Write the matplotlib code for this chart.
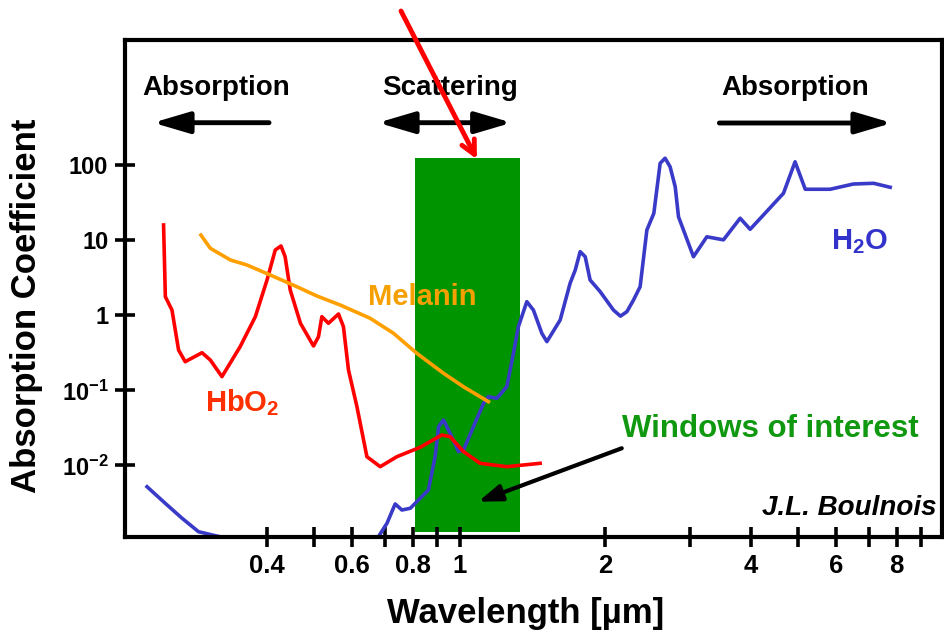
import matplotlib
matplotlib.use("Agg")
import matplotlib.pyplot as plt

plt.rcParams['font.family'] = ['Liberation Sans', 'DejaVu Sans']
plt.rcParams['font.weight'] = 'bold'
plt.rcParams['axes.labelweight'] = 'bold'
plt.rcParams['mathtext.fontset'] = 'custom'
plt.rcParams['mathtext.rm'] = 'Liberation Sans:bold'
plt.rcParams['mathtext.bf'] = 'Liberation Sans:bold'
plt.rcParams['mathtext.it'] = 'Liberation Sans:bold:italic'

# HbO2 (rouge)
hbo2_wl = [0.2445, 0.2466, 0.2545, 0.2626, 0.271, 0.2936, 0.3054, 0.3228, 0.352, 0.3784,
           0.400, 0.416, 0.4275, 0.436, 0.4467, 0.469, 0.499, 0.511, 0.5193, 0.5358,
           0.562, 0.5754, 0.5894, 0.6136, 0.6434, 0.6855, 0.742, 0.829, 0.919, 0.956,
           1.019, 1.103, 1.252, 1.467]
hbo2_abs = [16.1, 1.78, 1.18, 0.347, 0.242, 0.319, 0.255, 0.153, 0.384, 0.964,
            2.97, 7.47, 8.45, 6.08, 2.19, 0.787, 0.392, 0.521, 0.964, 0.787,
            1.047, 0.71, 0.1876, 0.0608, 0.0131, 0.00964, 0.0131, 0.0175, 0.0255, 0.0242,
            0.0153, 0.0107, 0.00964, 0.0107]

# melanine
mel_wl = [0.2921, 0.3054, 0.336, 0.3636, 0.406, 0.461, 0.507, 0.5666, 0.6535, 0.7302,
          0.816, 0.926, 1.019, 1.147]
mel_abs = [11.8, 7.87, 5.5, 4.71, 3.47, 2.42, 1.82, 1.38, 0.918, 0.579,
           0.313, 0.17, 0.112, 0.071]

# eau, morceau UV
h2o_uv_wl = [0.226, 0.2465, 0.267, 0.2887, 0.320]
h2o_uv_abs = [0.00521, 0.00313, 0.00198, 0.00131, 0.00112]

# eau, visible -> IR
h2o_wl = [0.680, 0.708, 0.736, 0.760, 0.791, 0.862, 0.890, 0.905, 0.926, 0.956,
          0.995, 1.019, 1.068, 1.121, 1.147, 1.194, 1.252, 1.292, 1.323, 1.377,
          1.421, 1.479, 1.515, 1.614, 1.692, 1.734, 1.775, 1.818, 1.861, 1.95,
          2.08, 2.15, 2.217, 2.288, 2.361, 2.438, 2.52, 2.597, 2.659, 2.723,
          2.79, 2.834, 3.043, 3.243, 3.51, 3.80, 3.985, 4.246, 4.67, 4.935,
          5.18, 5.83, 6.51, 7.17, 7.76]
h2o_abs = [0.00113, 0.0017, 0.00307, 0.00255, 0.00269, 0.00471, 0.0131, 0.0329, 0.0404, 0.0269,
           0.0153, 0.0161, 0.0329, 0.0675, 0.0826, 0.0787, 0.1125, 0.313, 0.71, 1.53,
           1.18, 0.579, 0.448, 0.871, 2.69, 4.04, 7.1, 6.08, 2.97, 2.1,
           1.18, 0.98, 1.125, 1.61, 2.42, 13.8, 23, 107, 125, 96,
           52, 20.7, 6.08, 11.2, 10.2, 19.8, 14.1, 21.9, 42.6, 112,
           48.2, 48.2, 56.6, 57.9, 51.2]

# fenetre d'interet
window_wl = [0.81, 1.33]
window_abs = [0.00131, 125]

xticks = [0.4, 0.5, 0.6, 0.7, 0.8, 0.9, 1, 2, 3, 4, 5, 6, 7, 8, 9]
xtick_labels = ['0.4', '', '0.6', '', '0.8', '', '1', '2', '', '4', '', '6', '', '8', '']
yticks = [0.01, 0.1, 1, 10, 100]
ytick_labels = [r'$\mathbf{10^{-2}}$', r'$\mathbf{10^{-1}}$', '1', '10', '100']

fig = plt.figure(figsize=(9.44, 6.33), dpi=100)
ax = fig.add_axes([0.1324, 0.1517, 0.8655, 0.7851])
ax.set_xscale('log')
ax.set_yscale('log')
ax.set_xlim(0.2035, 9.93)
ax.set_ylim(10 ** -2.953, 10 ** 3.673)

ax.fill_between(window_wl, window_abs[0], window_abs[1], color='#009400', lw=0, zorder=1)

ax.plot(h2o_uv_wl, h2o_uv_abs, color='#3a3ac8', lw=2.6, solid_joinstyle='round', zorder=2)
ax.plot(h2o_wl, h2o_abs, color='#3a3ac8', lw=2.6, solid_joinstyle='round', zorder=2)
ax.plot(hbo2_wl, hbo2_abs, color='#ff0000', lw=2.6, solid_joinstyle='round', zorder=3)
ax.plot(mel_wl, mel_abs, color='#ffa000', lw=2.6, solid_joinstyle='round', zorder=3)

ax.set_xticks(xticks)
ax.set_xticklabels(xtick_labels)
ax.xaxis.set_minor_locator(matplotlib.ticker.NullLocator())
ax.set_yticks(yticks)
ax.set_yticklabels(ytick_labels)
ax.yaxis.set_minor_locator(matplotlib.ticker.NullLocator())
ax.tick_params(direction='inout', length=14, width=2.6, pad=5)
ax.tick_params(axis='x', labelsize=18.5)
ax.tick_params(axis='y', labelsize=17)

for s in ax.spines.values():
    s.set_linewidth(3)

ax.set_xlabel('Wavelength [µm]', fontsize=25, va='center')
ax.xaxis.set_label_coords(0.4908, -0.153)
ax.set_ylabel('Absorption Coefficient', fontsize=25, va='center')
ax.yaxis.set_label_coords(-0.121, 0.465)

# textes et fleches du haut
ax.text(0.1122, 0.8893, 'Absorption', fontsize=20, ha='center', va='baseline', transform=ax.transAxes)
ax.text(0.3978, 0.8893, 'Scattering', fontsize=20, ha='center', va='baseline', transform=ax.transAxes)
ax.text(0.8197, 0.8893, 'Absorption', fontsize=20, ha='center', va='baseline', transform=ax.transAxes)
fleche = dict(arrowstyle='-|>,head_length=2.2,head_width=0.65', color='black', lw=3.5, shrinkA=0, shrinkB=0)
fleche2 = dict(arrowstyle='<|-|>,head_length=2.2,head_width=0.65', color='black', lw=3.5, shrinkA=0, shrinkB=0)
ax.annotate('', xy=(0.0343, 0.8336), xytext=(0.1763, 0.8336), xycoords='axes fraction', arrowprops=fleche)
ax.annotate('', xy=(0.3097, 0.8336), xytext=(0.4733, 0.8336), xycoords='axes fraction', arrowprops=fleche2)
ax.annotate('', xy=(0.9388, 0.833), xytext=(0.7275, 0.833), xycoords='axes fraction', arrowprops=fleche)

# etiquettes des courbes
ax.text(0.2974, 0.4668, 'Melanin', fontsize=21, color='#f5a000', va='baseline', transform=ax.transAxes)
ax.text(0.0979, 0.2521, r'HbO$_2$', fontsize=21, color='#ff3000', va='baseline', transform=ax.transAxes)
ax.text(0.8641, 0.5789, r'H$_2$O', fontsize=21, color='#3333cc', va='baseline', transform=ax.transAxes)
ax.text(0.608, 0.2006, 'Windows of interest', fontsize=22.5, color='#109910', va='baseline', transform=ax.transAxes)
ax.text(0.9935, 0.0443, 'J.L. Boulnois', fontsize=20, style='italic', ha='right', va='baseline',
        transform=ax.transAxes)

ax.annotate('', xy=(0.4324, 0.071), xytext=(0.608, 0.1785), xycoords='axes fraction',
            arrowprops=dict(arrowstyle='-|>,head_length=1.4,head_width=0.5', color='black', lw=3,
                            shrinkA=0, shrinkB=0))

# fleche rouge qui sort du cadre
ax.annotate('', xy=(1.086, 121), xycoords='data', xytext=(0.4248, 0.9826), textcoords='figure fraction',
            arrowprops=dict(arrowstyle='->,head_length=1.0,head_width=0.5', color='#ff0000', lw=3.5,
                            shrinkA=0, shrinkB=0), annotation_clip=False, zorder=5)

fig.savefig('out.png', dpi=100)
